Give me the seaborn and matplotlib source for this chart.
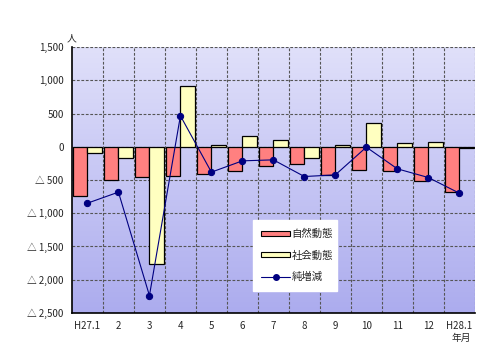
import numpy as np
import pandas as pd
import matplotlib
matplotlib.use("Agg")
import matplotlib.pyplot as plt
import seaborn as sns
from matplotlib.colors import LinearSegmentedColormap

months = ["H27.1", "2", "3", "4", "5", "6", "7", "8", "9", "10", "11", "12", "H28.1"]
natural = [-740, -505, -455, -435, -405, -360, -290, -265, -420, -350, -360, -520, -675]
social = [-95, -170, -1760, 920, 25, 165, 110, -170, 25, 355, 55, 70, -25]
net = [-848, -682, -2239, 467, -381, -211, -196, -447, -422, -5, -331, -462, -697]
series_names = ["自然動態", "社会動態", "純増減"]
y_ticks = [1500, 1000, 500, 0, -500, -1000, -1500, -2000, -2500]


def fmt(v):
    if v < 0:
        return "△ " + f"{-v:,}"
    return f"{v:,}"


def main():
    sns.set_style("white")
    plt.rcParams["font.family"] = ["Noto Sans CJK JP", "DejaVu Sans"]

    df = pd.DataFrame({
        "month": months * 2,
        "kind": [series_names[0]] * len(months) + [series_names[1]] * len(months),
        "value": natural + social,
    })

    fig = plt.figure(figsize=(4.83, 3.63), dpi=100)
    ax = fig.add_axes([0.149, 0.138, 0.834, 0.732])

    # fondo degradado
    cmap = LinearSegmentedColormap.from_list("bg", ["#e0e0fa", "#acacee"])
    grad = np.linspace(0, 1, 256).reshape(-1, 1)
    ax.imshow(grad, cmap=cmap, aspect="auto", extent=[-0.5, 12.5, -2500, 1500],
              origin="upper", zorder=0)

    sns.barplot(data=df, x="month", y="value", hue="kind",
                palette=["#ff8080", "#ffffc0"], edgecolor="black", linewidth=0.9,
                width=0.95, saturation=1, ax=ax, zorder=3, legend=False)

    sns.lineplot(x=np.arange(len(months)), y=net, color="#000080", marker="o",
                 markersize=4.5, markeredgecolor="#000080", linewidth=0.8,
                 ax=ax, zorder=5, legend=False)

    for v in y_ticks:
        ax.axhline(v, color="#555555", linestyle=(0, (2.5, 1.5)), linewidth=0.8, zorder=1)
    for i in range(len(months)):
        ax.axvline(i + 0.5, color="#555555", linestyle=(0, (2.5, 1.5)), linewidth=0.8, zorder=1)

    ax.set_xlim(-0.5, 12.5)
    ax.set_ylim(-2500, 1500)
    ax.set_yticks(y_ticks)
    ax.set_yticklabels([fmt(v) for v in y_ticks])
    ax.tick_params(axis="both", length=0, labelsize=7, pad=6)
    ax.set_xlabel("")
    ax.set_ylabel("")
    for s in ["top", "right"]:
        ax.spines[s].set_visible(False)
    for s in ["left", "bottom"]:
        ax.spines[s].set_color("black")
        ax.spines[s].set_linewidth(1.2)

    handles = [
        plt.Rectangle((0, 0), 1, 1, facecolor="#ff8080", edgecolor="black", linewidth=0.8),
        plt.Rectangle((0, 0), 1, 1, facecolor="#ffffc0", edgecolor="black", linewidth=0.8),
        plt.Line2D([], [], color="#000080", marker="o", markersize=4, linewidth=0.8),
    ]
    leg = ax.legend(handles, series_names, loc="lower left",
                    bbox_to_anchor=(0.513, 0.185, 0.195, 0.193),
                    bbox_transform=fig.transFigure, mode="expand",
                    frameon=True, fancybox=False, framealpha=1, edgecolor="white",
                    fontsize=7.5, handlelength=2.8, handleheight=0.35,
                    labelspacing=1.1, handletextpad=0.1, borderpad=0.8)
    leg.set_zorder(10)

    fig.text(0.149, 0.895, "人", fontsize=7, ha="center", va="center")
    fig.text(0.955, 0.068, "年月", fontsize=7, ha="center", va="center")

    fig.savefig("out.png", dpi=100)
    plt.close(fig)


if __name__ == "__main__":
    main()
